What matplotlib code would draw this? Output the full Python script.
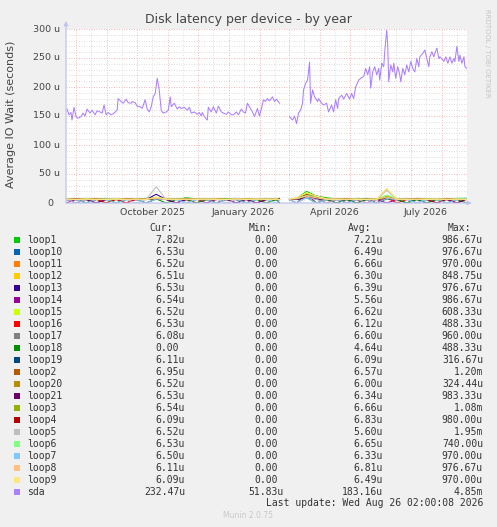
import numpy as np
import matplotlib
matplotlib.use("Agg")
import matplotlib.pyplot as plt
import matplotlib.dates as mdates
import matplotlib.transforms as mtransforms
from matplotlib.patches import Rectangle
from matplotlib.ticker import MultipleLocator
from datetime import datetime

START = datetime(2025, 7, 22)
END = datetime(2026, 8, 26, 2, 0, 8)
NA = np.nan

# sda latency in microseconds, keyed by day offset from START
sda_day = [1, 3, 5, 6, 8, 10, 12, 15, 17, 19, 21, 24, 26, 29, 31, 34, 36, 38, 40, 42,
           45, 48, 51, 52, 55, 57, 60, 62, 65, 66, 69, 71, 74, 76, 79, 81, 83, 85, 87, 89,
           91, 93, 95, 97, 100, 102, 104, 105, 108, 111, 113, 115, 118, 121, 123, 125, 128, 131, 133, 135,
           136, 138, 141, 142, 145, 147, 150, 152, 155, 157, 160, 162, 165, 167, 170, 172, 175, 177, 179, 181,
           183, 186, 188, 191, 193, 195, 197, 199, 201, 203, 206, 208, 210, 213,
           223, 226, 228, 230, 232, 234, 236, 237, 239, 241, 243, 244, 246, 248, 251, 252, 255, 257, 260, 262,
           265, 267, 269, 271, 272, 275, 277, 280, 283, 285, 287, 289, 292, 294, 297, 299, 301, 303, 304, 306,
           308, 310, 312, 313, 315, 317, 318, 320, 321, 322, 324, 326, 327, 329, 331, 333, 334, 336, 338, 340,
           342, 344, 346, 348, 350, 352, 353, 356, 358, 360, 362, 363, 365, 367, 368, 370, 372, 373, 376, 377,
           379, 381, 383, 385, 387, 388, 390, 392, 393, 395, 397, 398, 400]
sda_val = [162, 152, 156, 143, 165, 149, 146, 149, 155, 150, 162, 155, 160, 152, 159, 157, 155, 169, 152, 156,
           152, 155, 160, 180, 175, 172, 179, 173, 172, 175, 173, 167, 166, 163, 178, 162, 157, 166, 183, 189,
           215, 195, 160, 155, 157, 160, 183, 166, 172, 162, 166, 163, 165, 160, 165, 155, 157, 153, 156, 150,
           156, 149, 143, 165, 157, 166, 155, 167, 157, 155, 153, 157, 152, 152, 157, 152, 162, 157, 155, 172,
           166, 157, 149, 163, 150, 163, 178, 175, 180, 176, 183, 175, 179, 172,
           149, 143, 150, 137, 155, 160, 172, 195, 206, 212, 243, 172, 195, 183, 175, 180, 172, 169, 172, 157,
           169, 157, 178, 163, 180, 186, 179, 189, 179, 189, 180, 200, 212, 215, 218, 232, 221, 235, 198, 226,
           235, 221, 232, 212, 241, 235, 261, 298, 272, 209, 238, 226, 241, 215, 235, 221, 209, 232, 221, 238,
           226, 244, 232, 226, 249, 235, 252, 258, 264, 249, 235, 252, 261, 252, 258, 267, 249, 252, 247, 244,
           252, 241, 252, 241, 249, 244, 270, 244, 255, 241, 252, 235, 232]

# loop devices, sampled every ~10 days
loop_days = [0, 10, 20, 30, 40, 50, 60, 70, 80, 90, 100, 110, 120, 130, 140, 150, 160, 170, 180, 190,
             200, 210, 213, 223, 230, 240, 250, 260, 270, 280, 290, 300, 310, 320, 330, 340, 350, 360,
             370, 380, 390, 400]
gap_day = 218

loop1 = [7, 6, 8, 6, 7, 0, 7, 6, 8, 9, 7, 6, 9, 7, 6, 0, 7, 8, 6, 7, 6, 7, 8, 7, 8, 20, 12, 9, 7, 6, 8, 7, 6, 9, 7, 0, 8, 7, 6, 7, 8, 8]
loop10 = [6, 7, 0, 6, 7, 6, 7, 6, 7, 8, 6, 0, 6, 7, 7, 6, 6, 0, 7, 6, 6, 6, 6, 6, 7, 10, 8, 6, 6, 0, 7, 6, 7, 8, 6, 7, 6, 0, 7, 6, 6, 7]
loop11 = [7, 6, 7, 6, 0, 7, 6, 7, 6, 9, 7, 6, 7, 0, 6, 7, 6, 7, 6, 7, 0, 6, 7, 7, 6, 14, 9, 7, 6, 7, 6, 0, 7, 10, 6, 7, 6, 7, 6, 0, 7, 7]
loop12 = [6, 7, 6, 7, 6, 6, 7, 6, 7, 10, 6, 7, 6, 7, 6, 6, 7, 6, 7, 6, 7, 6, 6, 7, 8, 17, 11, 7, 6, 7, 6, 7, 6, 24, 7, 6, 7, 6, 7, 6, 6, 6]
loop13 = [6, 0, 6, 7, 6, 7, 6, 7, 6, 15, 6, 7, 0, 6, 7, 6, 7, 6, 0, 7, 6, 6, 6, 7, 6, 11, 7, 6, 7, 6, 0, 6, 7, 8, 6, 7, 0, 6, 7, 6, 7, 7]
loop14 = [0, 6, 6, 0, 6, 7, 0, 6, 0, 7, 6, 0, 6, 7, 0, 6, 6, 0, 6, 0, 6, 6, 0, 6, 0, 15, 0, 6, 0, 6, 6, 0, 6, 0, 6, 0, 6, 6, 0, 6, 0, 7]
loop15 = [7, 6, 7, 6, 7, 6, 7, 6, 7, 8, 7, 6, 7, 6, 7, 6, 7, 6, 7, 6, 7, 6, 7, 7, 8, 18, 10, 7, 6, 7, 6, 7, 6, 12, 7, 6, 7, 6, 7, 6, 7, 7]
loop16 = [6, 7, 0, 6, 7, 6, 0, 7, 6, 8, 6, 7, 6, 0, 6, 7, 6, 6, 0, 7, 6, 7, 6, 6, 7, 12, 8, 6, 7, 0, 6, 7, 6, 9, 0, 6, 7, 6, 6, 7, 0, 7]
loop17 = [7, 6, 6, 7, 6, 7, 6, 6, 7, 9, 7, 6, 7, 6, 6, 7, 6, 7, 6, 6, 7, 6, 7, 6, 7, 10, 8, 7, 6, 6, 7, 6, 7, 10, 6, 7, 6, 7, 6, 6, 7, 6]
loop18 = [6, 6, 0, 7, 6, 0, 6, 6, 0, 7, 0, 6, 6, 0, 6, 0, 6, 6, 0, 6, 0, 6, 0, 6, 6, 9, 0, 6, 0, 6, 0, 6, 0, 7, 6, 0, 6, 0, 6, 0, 6, 0]
loop19 = [6, 7, 6, 6, 7, 6, 6, 7, 6, 8, 6, 7, 6, 6, 7, 6, 6, 7, 6, 6, 7, 6, 6, 6, 7, 9, 7, 6, 6, 7, 6, 6, 7, 8, 6, 6, 7, 6, 6, 7, 6, 6]
loop2 = [7, 7, 6, 7, 7, 6, 7, 7, 6, 9, 7, 7, 6, 7, 7, 6, 7, 7, 6, 7, 7, 6, 7, 7, 8, 15, 12, 7, 7, 6, 7, 7, 6, 10, 7, 7, 6, 7, 7, 6, 7, 7]
loop20 = [6, 6, 7, 6, 6, 7, 6, 6, 7, 8, 6, 6, 7, 6, 6, 7, 6, 6, 7, 6, 6, 6, 6, 6, 7, 13, 9, 6, 6, 7, 6, 6, 7, 9, 6, 6, 7, 6, 6, 7, 6, 7]
loop21 = [6, 7, 6, 0, 6, 7, 6, 6, 7, 8, 6, 0, 6, 7, 6, 6, 7, 6, 6, 0, 6, 7, 6, 7, 6, 10, 7, 0, 6, 7, 6, 6, 0, 8, 6, 7, 6, 6, 7, 6, 0, 7]
loop3 = [7, 6, 7, 7, 6, 7, 7, 6, 7, 9, 7, 6, 7, 7, 6, 7, 7, 6, 7, 7, 6, 7, 7, 7, 8, 16, 11, 7, 6, 7, 7, 6, 7, 11, 7, 6, 7, 7, 6, 7, 7, 7]
loop4 = [6, 7, 6, 7, 0, 6, 7, 7, 6, 8, 7, 6, 7, 6, 7, 0, 6, 7, 6, 7, 6, 7, 7, 6, 8, 14, 10, 7, 6, 7, 6, 7, 0, 9, 7, 6, 7, 6, 0, 7, 6, 6]
loop5 = [6, 0, 6, 6, 7, 6, 6, 0, 6, 28, 6, 6, 0, 6, 6, 7, 0, 6, 6, 7, 6, 6, 6, 6, 0, 10, 6, 0, 6, 6, 7, 0, 6, 22, 6, 6, 0, 6, 7, 6, 6, 7]
loop6 = [7, 6, 7, 6, 7, 7, 6, 7, 6, 9, 7, 7, 6, 7, 7, 6, 7, 7, 6, 7, 7, 7, 6, 7, 8, 13, 11, 7, 7, 6, 7, 7, 6, 14, 7, 7, 6, 7, 7, 6, 7, 7]
loop7 = [6, 6, 0, 6, 6, 0, 6, 6, 0, 7, 6, 6, 0, 6, 6, 0, 6, 6, 0, 6, 6, 0, 6, 6, 0, 9, 0, 6, 6, 0, 6, 6, 0, 8, 6, 6, 0, 6, 6, 0, 6, 7]
loop8 = [6, 7, 6, 7, 6, 7, 7, 6, 7, 8, 6, 7, 6, 7, 6, 7, 6, 7, 7, 6, 7, 6, 6, 7, 7, 12, 9, 6, 7, 6, 7, 6, 7, 10, 6, 7, 6, 7, 6, 7, 6, 6]
loop9 = [7, 6, 7, 6, 6, 7, 6, 7, 6, 10, 7, 6, 7, 6, 7, 6, 6, 7, 6, 7, 6, 7, 6, 7, 9, 17, 12, 7, 6, 7, 6, 6, 7, 25, 7, 6, 7, 6, 7, 6, 7, 6]

names = ["loop1", "loop10", "loop11", "loop12", "loop13", "loop14", "loop15", "loop16",
         "loop17", "loop18", "loop19", "loop2", "loop20", "loop21", "loop3", "loop4",
         "loop5", "loop6", "loop7", "loop8", "loop9", "sda"]
colors = ["#00CC00", "#0066B3", "#FF8000", "#FFCC00", "#330099", "#990099", "#CCFF00", "#FF0000",
          "#808080", "#008F00", "#00487D", "#B35A00", "#B38F00", "#6B006B", "#8FB300", "#B30000",
          "#BEBEBE", "#80FF80", "#80C9FF", "#FFC080", "#FFE680", "#AA80FF"]
loop_series = [loop1, loop10, loop11, loop12, loop13, loop14, loop15, loop16, loop17, loop18, loop19,
               loop2, loop20, loop21, loop3, loop4, loop5, loop6, loop7, loop8, loop9]

cur = ["7.82u", "6.53u", "6.52u", "6.51u", "6.53u", "6.54u", "6.52u", "6.53u", "6.08u", "0.00", "6.11u",
       "6.95u", "6.52u", "6.53u", "6.54u", "6.09u", "6.52u", "6.53u", "6.50u", "6.11u", "6.09u", "232.47u"]
mins = ["0.00"] * 21 + ["51.83u"]
avgs = ["7.21u", "6.49u", "6.66u", "6.30u", "6.39u", "5.56u", "6.62u", "6.12u", "6.60u", "4.64u", "6.09u",
        "6.57u", "6.00u", "6.34u", "6.66u", "6.83u", "5.60u", "6.65u", "6.33u", "6.81u", "6.49u", "183.16u"]
maxs = ["986.67u", "976.67u", "970.00u", "848.75u", "976.67u", "986.67u", "608.33u", "488.33u", "960.00u",
        "488.33u", "316.67u", "1.20m", "324.44u", "983.33u", "1.08m", "980.00u", "1.95m", "740.00u",
        "970.00u", "976.67u", "970.00u", "4.85m"]

month_labels = ["October 2025", "January 2026", "April 2026", "July 2026"]
month_label_dates = [datetime(2025, 10, 16), datetime(2026, 1, 15), datetime(2026, 4, 16), datetime(2026, 7, 16)]
yticks = [0, 50, 100, 150, 200, 250, 300]

TEXT = "#333333"
W, H = 497, 527

fig = plt.figure(figsize=(W / 100, H / 100), dpi=100, facecolor="#F0F0F0")
ax = fig.add_axes([66 / W, 1 - 203 / H, 401 / W, 174 / H])
ax.set_facecolor("white")

t0 = mdates.date2num(START)


def with_gap(days, vals):
    days = np.asarray(days, dtype=float)
    vals = np.asarray(vals, dtype=float)
    i = np.searchsorted(days, gap_day)
    return t0 + np.insert(days, i, gap_day), np.insert(vals, i, NA)


for vals, c in zip(loop_series, colors[:-1]):
    x, y = with_gap(loop_days, vals)
    ax.plot(x, y, color=c, lw=0.75, zorder=3)
x, y = with_gap(sda_day, sda_val)
ax.plot(x, y, color=colors[-1], lw=0.75, zorder=4)

ax.set_xlim(t0, mdates.date2num(END))
ax.set_ylim(0, 300)

# rrdtool style grid
ax.set_yticks(yticks)
ax.yaxis.set_minor_locator(MultipleLocator(10))
ax.xaxis.set_major_locator(mdates.MonthLocator(bymonthday=1))
ax.xaxis.set_minor_locator(mdates.MonthLocator(bymonthday=16))
ax.grid(which="minor", color="#D2D2D2", ls=(0, (1, 2)), lw=0.6)
ax.grid(which="major", color="#E8A0A0", ls=(0, (1, 2)), lw=0.6)
ax.set_axisbelow(True)
ax.tick_params(which="both", length=0, labelbottom=False, labelleft=False)
for s in ax.spines.values():
    s.set_visible(False)

axis_col = "#BFC3F2"
ax.annotate("", xy=(0, 1.046), xytext=(0, 0), xycoords="axes fraction",
            arrowprops=dict(arrowstyle="-|>", color=axis_col, lw=0.9, mutation_scale=6,
                            shrinkA=0, shrinkB=0), annotation_clip=False)
ax.annotate("", xy=(1.012, 0), xytext=(0, 0), xycoords="axes fraction",
            arrowprops=dict(arrowstyle="-|>", color=axis_col, lw=0.9, mutation_scale=6,
                            shrinkA=0, shrinkB=0), annotation_clip=False)

# tick labels
ytr = ax.get_yaxis_transform()
for v in yticks:
    lab = "0" if v == 0 else f"{v} u"
    off = -13 if v == 0 else -6
    ax.text(0, v, lab, transform=mtransforms.offset_copy(ytr, fig, x=off, units="dots"),
            ha="right", va="center", fontsize=6.8, color="#444444")
xtr = mtransforms.offset_copy(ax.get_xaxis_transform(), fig, y=-9.5, units="dots")
for d, lab in zip(month_label_dates, month_labels):
    ax.text(mdates.date2num(d), 0, lab, transform=xtr, ha="center", va="center",
            fontsize=6.8, color="#444444")

fig.text(248.5 / W, 1 - 19 / H, "Disk latency per device - by year", ha="center", va="center",
         fontsize=9, color="#444444")
fig.text(11 / W, 1 - 114 / H, "Average IO Wait (seconds)", rotation=90, ha="center", va="center",
         fontsize=8, color="#444444")
fig.text(487 / W, 1 - 53 / H, "RRDTOOL / TOBI OETIKER", rotation=270, ha="center", va="center",
         fontsize=5, color="#C4C4C4")

# legend table (pixel coordinates)
lg = fig.add_axes([0, 0, 1, 1])
lg.set_xlim(0, W)
lg.set_ylim(H, 0)
lg.axis("off")
lg.patch.set_alpha(0)

mono = dict(family="DejaVu Sans Mono", fontsize=7, color=TEXT, va="center")
cw = 7 * 100 / 72 * 0.602
col_right = [185, 284, 383, 483]
for r, h in zip(col_right, ["Cur:", "Min:", "Avg:", "Max:"]):
    lg.text(r - 2 * cw, 228, h, ha="right", **mono)

for i, name in enumerate(names):
    y0 = 240 + 12 * i
    lg.add_patch(Rectangle((14, y0 - 3), 6, 6, facecolor=colors[i], edgecolor="none"))
    lg.text(27, y0, name, ha="left", **mono)
    for r, val in zip(col_right, [cur[i], mins[i], avgs[i], maxs[i]]):
        shift = 0 if val[-1] in "um" else cw
        lg.text(r - shift, y0, val, ha="right", **mono)

lg.text(483, 503, "Last update: Wed Aug 26 02:00:08 2026", ha="right", **mono)
lg.text(248, 516, "Munin 2.0.75", ha="center", va="center", fontsize=5.5, color="#C8C8C8")

fig.savefig("out.png", dpi=100, facecolor=fig.get_facecolor())
